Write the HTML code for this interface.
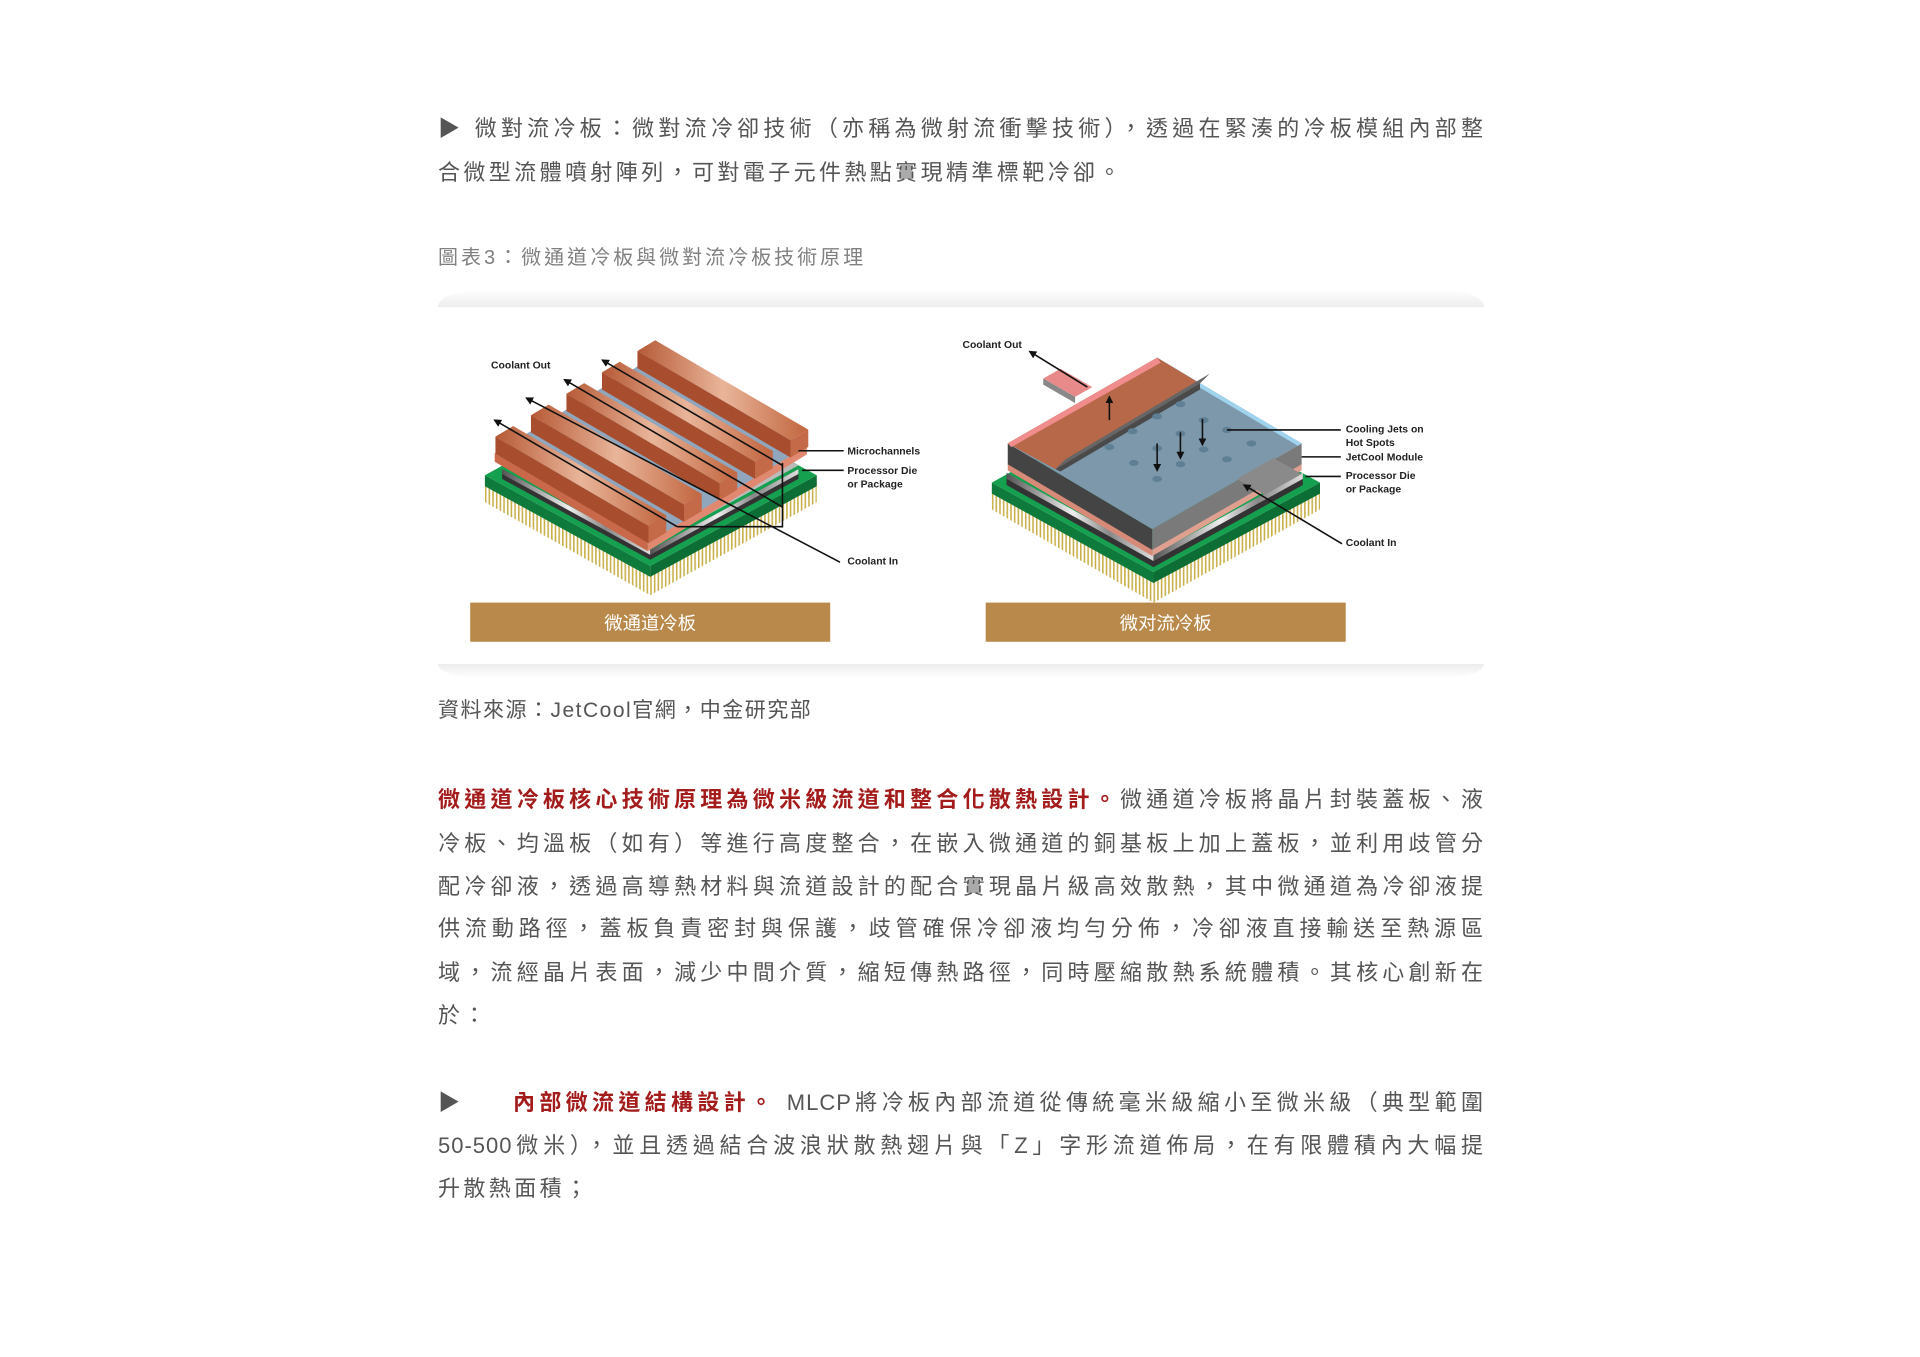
<!DOCTYPE html>
<html><head><meta charset="utf-8">
<style>
html,body{margin:0;padding:0;background:#fff;}
body{width:1920px;height:1357px;position:relative;overflow:hidden;font-family:"Liberation Sans","Noto Sans CJK TC",sans-serif;color:#555;}
.l{position:absolute;left:438px;width:1046px;height:44px;line-height:44px;font-size:22px;white-space:nowrap;}
.j{text-align:justify;text-align-last:justify;letter-spacing:1px;}
.p{letter-spacing:3.4px;}
.r{color:#a31b1b;font-weight:bold;}
.cap{position:absolute;left:438px;font-size:20px;line-height:30px;color:#808080;letter-spacing:3px;white-space:nowrap;}
.top{position:absolute;left:438px;top:290px;width:1046px;height:17px;background:linear-gradient(#fff,#ececec);border-radius:40px 40px 0 0/ 17px 17px 0 0;}
.bot{position:absolute;left:438px;top:664px;width:1046px;height:14px;background:linear-gradient(#ececec,#fff);border-radius:0 0 40px 40px/0 0 14px 14px;}
svg{position:absolute;left:0;top:0;}
</style></head><body>
<div class="l j" style="top:107px">▶ 微對流冷板：微對流冷卻技術（亦稱為微射流衝擊技術），透過在緊湊的冷板模組內部整</div>
<div class="l p" style="top:151px">合微型流體噴射陣列，可對電子元件熱點實現精準標靶冷卻。</div>
<div class="cap" style="top:243px">圖表3：微通道冷板與微對流冷板技術原理</div>
<div class="top"></div><div class="bot"></div>
<div class="cap" style="top:696px;font-size:21px;color:#555;letter-spacing:1.5px">資料來源：JetCool官網，中金研究部</div>
<div class="l j" style="top:778px"><span class="r">微通道冷板核心技術原理為微米級流道和整合化散熱設計。</span>微通道冷板將晶片封裝蓋板、液</div>
<div class="l j" style="top:822px">冷板、均溫板（如有）等進行高度整合，在嵌入微通道的銅基板上加上蓋板，並利用歧管分</div>
<div class="l j" style="top:865px">配冷卻液，透過高導熱材料與流道設計的配合實現晶片級高效散熱，其中微通道為冷卻液提</div>
<div class="l j" style="top:907px">供流動路徑，蓋板負責密封與保護，歧管確保冷卻液均勻分佈，冷卻液直接輸送至熱源區</div>
<div class="l j" style="top:951px">域，流經晶片表面，減少中間介質，縮短傳熱路徑，同時壓縮散熱系統體積。其核心創新在</div>
<div class="l p" style="top:994px">於：</div>
<div class="l p" style="top:1081px">▶</div>
<div class="l j" style="top:1081px;left:513px;width:971px"><span class="r">內部微流道結構設計。</span> MLCP將冷板內部流道從傳統毫米級縮小至微米級（典型範圍</div>
<div class="l j" style="top:1124px">50-500微米），並且透過結合波浪狀散熱翅片與「Z」字形流道佈局，在有限體積內大幅提</div>
<div class="l p" style="top:1167px">升散熱面積；</div>

<svg width="1920" height="1357" viewBox="0 0 1568 1108">
<defs>
<pattern id="pins" width="3" height="40" patternUnits="userSpaceOnUse"><rect width="3" height="40" fill="#fff"/><rect width="1.3" height="40" fill="#c9b04a"/></pattern>
<linearGradient id="cu" x1="0" y1="0" x2="1" y2="0"><stop offset="0" stop-color="#b65a36"/><stop offset=".5" stop-color="#e9b59a"/><stop offset="1" stop-color="#c1653e"/></linearGradient>
<linearGradient id="sil" x1="0" y1="0" x2="1" y2="0"><stop offset="0" stop-color="#555"/><stop offset=".45" stop-color="#eee"/><stop offset=".7" stop-color="#888"/><stop offset="1" stop-color="#ddd"/></linearGradient>
<marker id="ah" viewBox="0 0 10 10" refX="8" refY="5" markerWidth="5" markerHeight="5" orient="auto-start-reverse"><path d="M0,0L10,5L0,10z" fill="#111"/></marker>
</defs>
<!-- LEFT CHIP -->
<polygon points="396,392 531,466 667,392 667,410 531,486 396,410" fill="url(#pins)"/>
<polygon points="396,388 531,462 531,471 396,397" fill="#0e7a3c"/>
<polygon points="531,462 667,388 667,397 531,471" fill="#0c6e35"/>
<polygon points="396,388 531,314 667,388 531,462" fill="#14a04e"/>
<polygon points="410,383 531,449 652,383 652,391 531,457 410,391" fill="#333"/>
<polygon points="410,383 531,449 531,453 410,387" fill="url(#sil)"/>
<polygon points="531,449 652,383 652,387 531,453" fill="url(#sil)"/>
<polygon points="410,380 531,316 652,380 531,446" fill="#bbb"/>
<polygon points="404,370 529,443 529,450 404,377" fill="#c9694a"/>
<polygon points="529,443 659,364 659,371 529,450" fill="#e08870"/>
<polygon points="404,370 534,291 659,364 529,443" fill="#8fa6bd"/>
<g stroke="none">
<polygon points="520.6,286.5 535.1,277.8 660.1,350.8 645.6,359.5" fill="url(#cu)"/><polygon points="520.6,286.5 645.6,359.5 645.6,373.5 520.6,300.5" fill="#a84e2e"/><polygon points="645.6,359.5 660.1,350.8 660.1,364.8 645.6,373.5" fill="#c46a48"/>
<polygon points="491.6,304 506.1,295.3 631.1,368.3 616.6,377" fill="url(#cu)"/><polygon points="491.6,304 616.6,377 616.6,391 491.6,318" fill="#a84e2e"/><polygon points="616.6,377 631.1,368.3 631.1,382.3 616.6,391" fill="#c46a48"/>
<polygon points="462.6,321.5 477.1,312.8 602.1,385.8 587.6,394.5" fill="url(#cu)"/><polygon points="462.6,321.5 587.6,394.5 587.6,408.5 462.6,335.5" fill="#a84e2e"/><polygon points="587.6,394.5 602.1,385.8 602.1,399.8 587.6,408.5" fill="#c46a48"/>
<polygon points="433.6,339 448.1,330.3 573.1,403.3 558.6,412" fill="url(#cu)"/><polygon points="433.6,339 558.6,412 558.6,426 433.6,353" fill="#a84e2e"/><polygon points="558.6,412 573.1,403.3 573.1,417.3 558.6,426" fill="#c46a48"/>
<polygon points="404.6,356.5 419.1,347.8 544.1,420.8 529.6,429.5" fill="url(#cu)"/><polygon points="404.6,356.5 529.6,429.5 529.6,443.5 404.6,370.5" fill="#a84e2e"/><polygon points="529.6,429.5 544.1,420.8 544.1,434.8 529.6,443.5" fill="#c46a48"/>
</g>
<g stroke="#111" stroke-width="1.3" fill="none">
<line x1="553" y1="430" x2="404" y2="343" marker-end="url(#ah)"/>
<line x1="686" y1="459" x2="430" y2="325" marker-end="url(#ah)"/>
<line x1="639" y1="414" x2="461" y2="310" marker-end="url(#ah)"/>
<line x1="639" y1="380" x2="492" y2="294" marker-end="url(#ah)"/>
<polyline points="553,430 639,430 639,378"/>
<line x1="652" y1="368" x2="689" y2="368"/>
<line x1="655" y1="384" x2="689" y2="384"/>
</g>
<g font-family="Liberation Sans,sans-serif" font-weight="bold" font-size="8.5" fill="#222">
<text x="401" y="301">Coolant Out</text>
<text x="692" y="371">Microchannels</text>
<text x="692" y="387">Processor Die</text>
<text x="692" y="398">or Package</text>
<text x="692" y="461">Coolant In</text>
</g>
<!-- RIGHT CHIP -->
<polygon points="810,398 942,472 1078,398 1078,416 942,492 810,416" fill="url(#pins)"/>
<polygon points="810,394 942,467 942,476 810,403" fill="#0e7a3c"/>
<polygon points="942,467 1078,394 1078,403 942,476" fill="#0c6e35"/>
<polygon points="810,394 942,320 1078,394 942,467" fill="#14a04e"/>
<polygon points="822,388 942,455 1064,388 1064,396 942,463 822,396" fill="#333"/>
<polygon points="822,386 942,453 942,458 822,391" fill="url(#sil)"/>
<polygon points="942,453 1064,386 1064,391 942,458" fill="url(#sil)"/>
<polygon points="823,378 941,448 941,454 823,384" fill="#d88a78"/>
<polygon points="941,448 1063,378 1063,384 941,454" fill="#e0a090"/>
<polygon points="823,362 941,432 941,449 823,379" fill="#444"/>
<polygon points="941,432 1063,362 1063,379 941,449" fill="#7a7a7a"/>
<!-- pipe -->
<polygon points="852,309 866,301 892,316 878,324" fill="#e88a8a"/>
<polygon points="852,309 878,324 878,329 852,314" fill="#888"/>
<polygon points="823,362 945,292 1063,362 941,432" fill="#7d98ab"/>
<polygon points="945,292 1063,362 1060,364 942,294" fill="#9fd3ee"/>
<polygon points="823,362 945,292 980,313 862,383" fill="#b66848"/>
<polygon points="823,362 945,292 948,296 826,365" fill="#f08c8c"/>
<polygon points="862,383 980,313 988,305 870,375" fill="#666"/>
<polygon points="862,383 980,313 980,318 866,385" fill="#4a4a4a"/>
<polygon points="1010,391 1040,374 1063,387 1033,404" fill="#8a8a8a"/>
<g fill="#5f7f94">
<ellipse cx="906" cy="365" rx="4" ry="2.5"/><ellipse cx="925" cy="352" rx="4" ry="2.5"/><ellipse cx="945" cy="340" rx="4" ry="2.5"/><ellipse cx="964" cy="330" rx="4" ry="2.5"/>
<ellipse cx="926" cy="378" rx="4" ry="2.5"/><ellipse cx="945" cy="366" rx="4" ry="2.5"/><ellipse cx="964" cy="354" rx="4" ry="2.5"/><ellipse cx="983" cy="343" rx="4" ry="2.5"/><ellipse cx="1002" cy="351" rx="4" ry="2.5"/>
<ellipse cx="945" cy="391" rx="4" ry="2.5"/><ellipse cx="964" cy="379" rx="4" ry="2.5"/><ellipse cx="983" cy="367" rx="4" ry="2.5"/><ellipse cx="1022" cy="362" rx="4" ry="2.5"/><ellipse cx="1002" cy="375" rx="4" ry="2.5"/>
</g>
<g stroke="#111" stroke-width="1.3" fill="none">
<line x1="888" y1="316" x2="841" y2="287" marker-end="url(#ah)"/>
<line x1="906" y1="343" x2="906" y2="324" marker-end="url(#ah)"/>
<line x1="945" y1="362" x2="945" y2="384" marker-end="url(#ah)"/>
<line x1="964" y1="353" x2="964" y2="374" marker-end="url(#ah)"/>
<line x1="982" y1="342" x2="982" y2="363" marker-end="url(#ah)"/>
<line x1="1002" y1="351" x2="1095" y2="351"/>
<line x1="1063" y1="373" x2="1095" y2="373"/>
<line x1="1066" y1="389" x2="1095" y2="389"/>
<line x1="1096" y1="444" x2="1016" y2="396" marker-end="url(#ah)"/>
</g>
<g font-family="Liberation Sans,sans-serif" font-weight="bold" font-size="8.5" fill="#222">
<text x="786" y="284">Coolant Out</text>
<text x="1099" y="353">Cooling Jets on</text>
<text x="1099" y="364">Hot Spots</text>
<text x="1099" y="376">JetCool Module</text>
<text x="1099" y="391">Processor Die</text>
<text x="1099" y="402">or Package</text>
<text x="1099" y="446">Coolant In</text>
</g>
<!-- bars -->
<rect x="384" y="492" width="294" height="32" fill="#b8894a"/>
<rect x="805" y="492" width="294" height="32" fill="#b8894a"/>
<g font-family="Liberation Sans,Noto Sans CJK SC,sans-serif" font-size="15" fill="#fff" text-anchor="middle">
<text x="531" y="514">微通道冷板</text>
<text x="952" y="514">微对流冷板</text>
</g>
</svg>
</body></html>
